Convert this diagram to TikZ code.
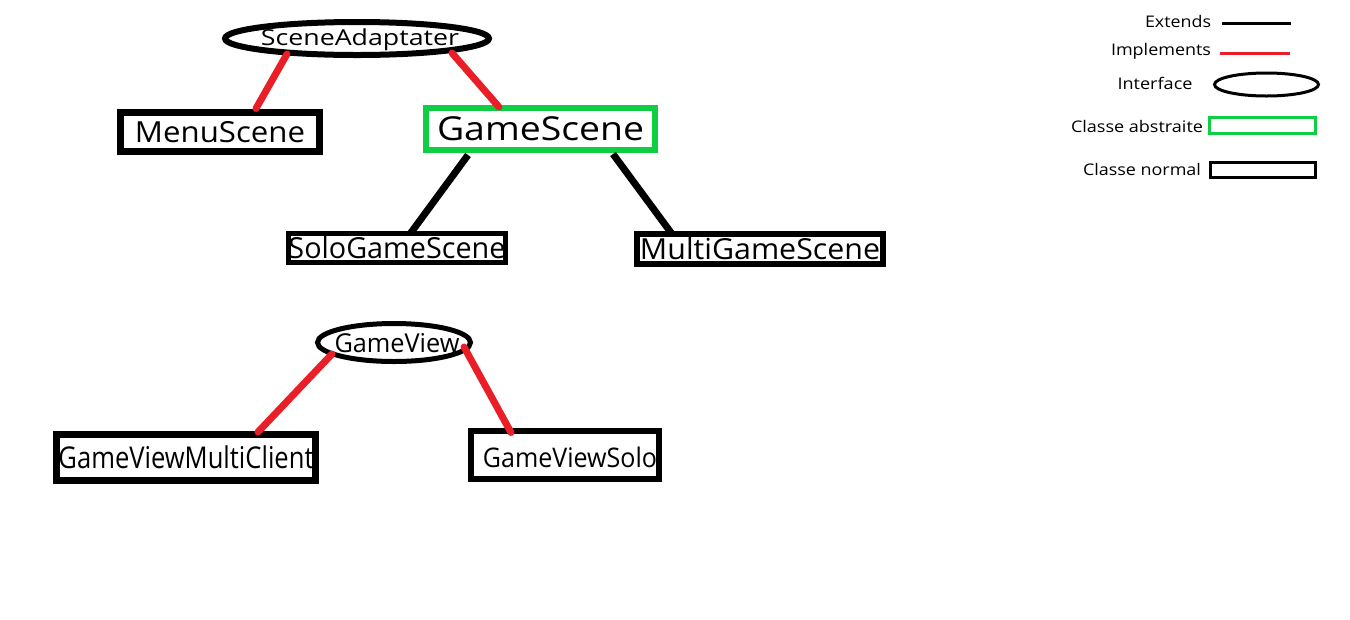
\documentclass[tikz,border=0pt]{standalone}
\usepackage{fontspec}
\setmainfont{Open Sans}
\usepackage{graphicx}
\usetikzlibrary{shapes.geometric,calc}
\definecolor{implred}{RGB}{234,30,38}
\definecolor{absgreen}{RGB}{16,206,68}
% \fitt{width in pt}{font size in pt}{text}
\newcommand\fitt[3]{\resizebox{#1pt}{\height}{\fontsize{#2pt}{#2pt}\selectfont #3}}
\tikzset{
  cls/.style={rectangle, draw=black, fill=white, inner sep=0pt, line width=#1},
  cls/.default=4.5pt,
  abscls/.style={rectangle, draw=absgreen, fill=white, inner sep=0pt, line width=4.5pt},
  iface/.style={ellipse, draw=black, fill=white, inner sep=0pt, line width=#1},
  iface/.default=4.5pt,
  implline/.style={draw=implred, line width=5.25pt, line cap=round},
  extline/.style={draw=black, line width=5.25pt},
  legtext/.style={inner sep=0pt, anchor=base},
}
\begin{document}
\begin{tikzpicture}[x=0.75pt,y=-0.75pt]
\useasboundingbox[fill=white] (0,0) rectangle (1350,619);

% ---------- upper hierarchy ----------
\node[iface, minimum width=264*0.75pt, minimum height=33*0.75pt] (SA) at (357,38.5) {};
\node[inner sep=0pt, anchor=base] (SAt) at (360,45.5) {\fitt{148.5}{16.5}{SceneAdaptater}};

\node[cls=5.25pt, minimum width=199*0.75pt, minimum height=39*0.75pt] (Menu) at (220,132) {\fitt{127.5}{21.75}{MenuScene}};
\node[abscls, minimum width=229*0.75pt, minimum height=42*0.75pt] (Game) at (540.5,129) {\fitt{155.25}{24.75}{GameScene}};
\node[cls=3.75pt, minimum width=217*0.75pt, minimum height=29*0.75pt] (Solo) at (397,248) {\fitt{162.75}{21.75}{SoloGameScene}};
\node[cls, minimum width=246*0.75pt, minimum height=30*0.75pt] (Multi) at (760,249) {\fitt{180}{21.75}{MultiGameScene}};

\draw[implline] ($(SA.center)+(-70,15.5)$) -- ($(Menu.north)+(36,-0.5)$);
\draw[implline] ($(SA.center)+(95,14.5)$) -- ($(Game.north)+(-41.5,2)$);
\draw[extline] ($(Game.south)+(-72.5,2)$) -- ($(Solo.north)+(13,3)$);
\draw[extline] ($(Game.south)+(72.5,1)$) -- ($(Multi.north)+(-88,3)$);

% ---------- lower hierarchy ----------
\node[iface=3.75pt, minimum width=153*0.75pt, minimum height=38*0.75pt] (GV) at (394,342.5) {};
\node[inner sep=0pt, anchor=base] (GVt) at (397,352) {\fitt{93.75}{19.5}{GameView}};
\node[cls=5.25pt, minimum width=259*0.75pt, minimum height=46*0.75pt] (GVMC) at (186,457.5) {\fitt{191.25}{22.5}{GameViewMultiClient}};
\node[cls, minimum width=188*0.75pt, minimum height=48*0.75pt,
      label={[inner sep=0pt, xshift=3.75pt, yshift=-2.25pt]center:\fitt{130.5}{20.25}{GameViewSolo}}] (GVS) at (565,454.5) {};

\draw[implline] ($(GV.center)+(-62,11.5)$) -- ($(GVMC.north)+(72,1)$);
\draw[implline] ($(GV.center)+(70,4.5)$) -- ($(GVS.north)+(-54,5)$);

% ---------- legend ----------
\node[legtext] (LE) at (1178,27) {\fitt{49.5}{12}{Extends}};
\coordinate (LEa) at (1222,23);
\coordinate (LEb) at (1291,23);
\draw[draw=black, line width=2.25pt] (LEa) -- (LEb);

\node[legtext] (LI) at (1161,55) {\fitt{75}{12}{Implements}};
\coordinate (LIa) at (1220,53);
\coordinate (LIb) at (1290,53);
\draw[draw=implred, line width=2.25pt] (LIa) -- (LIb);

\node[legtext] (LF) at (1155,89) {\fitt{56.25}{12}{Interface}};
\node[iface=2.25pt, minimum width=104*0.75pt, minimum height=23*0.75pt] (LFs) at (1266.5,84.5) {};

\node[legtext] (LA) at (1137,132) {\fitt{99}{12}{Classe abstraite}};
\node[rectangle, draw=absgreen, line width=2.25pt, inner sep=0pt, minimum width=106*0.75pt, minimum height=16*0.75pt] (LAs) at (1262.5,125.5) {};

\node[legtext] (LN) at (1142,175) {\fitt{88.5}{12}{Classe normal}};
\node[rectangle, draw=black, line width=2.25pt, inner sep=0pt, minimum width=105*0.75pt, minimum height=15*0.75pt] (LNs) at (1263,170) {};
\end{tikzpicture}
\end{document}
